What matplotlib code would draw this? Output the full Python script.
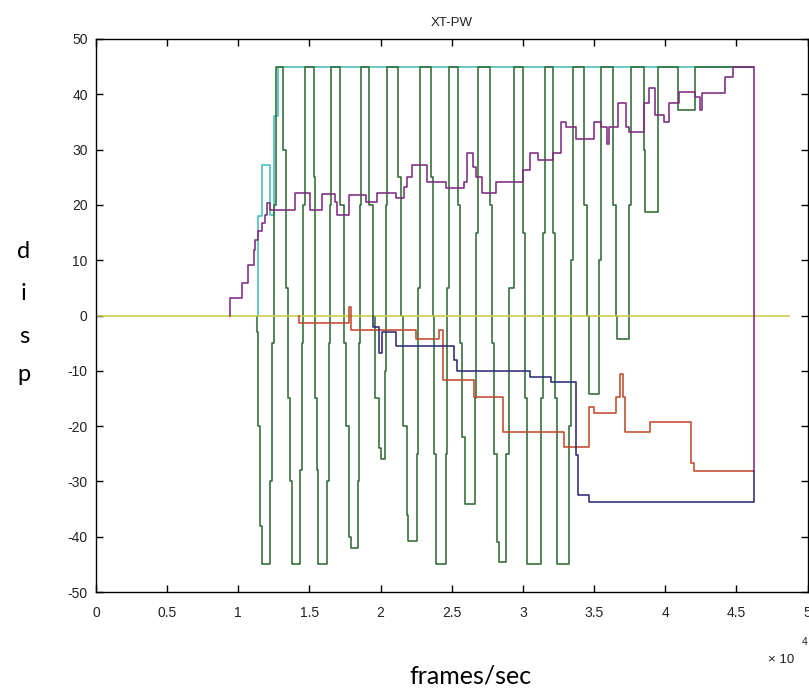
import matplotlib
matplotlib.use("Agg")
import matplotlib.pyplot as plt

# ---------------- data (x in units of 10^4 frames) ----------------
title = "XT-PW"
x_ticks = [0, 0.5, 1, 1.5, 2, 2.5, 3, 3.5, 4, 4.5, 5]
x_tick_labels = ["0", "0.5", "1", "1.5", "2", "2.5", "3", "3.5", "4", "4.5", "5"]
y_ticks = [-50, -40, -30, -20, -10, 0, 10, 20, 30, 40, 50]
y_tick_labels = ["-50", "-40", "-30", "-20", "-10", "0", "10", "20", "30", "40", "50"]

green_x = [1.130, 1.130, 1.140, 1.155, 1.165, 1.225, 1.235, 1.250, 1.262,
           1.315, 1.338, 1.350, 1.362, 1.378, 1.437, 1.447, 1.458, 1.470,
           1.531, 1.542, 1.550, 1.560, 1.624, 1.635, 1.645, 1.653,
           1.714, 1.740, 1.755, 1.778, 1.790, 1.840, 1.848, 1.855, 1.860,
           1.918, 1.945, 1.960, 1.990, 2.000, 2.030, 2.040, 2.047,
           2.122, 2.140, 2.160, 2.185, 2.195, 2.258, 2.265, 2.277,
           2.352, 2.365, 2.378, 2.390, 2.458, 2.470, 2.481,
           2.545, 2.560, 2.575, 2.590, 2.660, 2.670, 2.681,
           2.770, 2.785, 2.800, 2.815, 2.830, 2.880, 2.905, 2.934,
           2.998, 3.014, 3.028, 3.127, 3.140, 3.157,
           3.209, 3.225, 3.240, 3.326, 3.338, 3.350,
           3.427, 3.450, 3.465, 3.537, 3.549,
           3.636, 3.655, 3.662, 3.749, 3.761,
           3.854, 3.860, 3.950, 4.089, 4.206, 4.620]
green_y = [0, -3, -20, -38, -45, -30, -5, 20, 45,
           30, 5, -15, -30, -45, -28, -5, 20, 45,
           25, -15, -28, -45, -30, -5, 20, 45,
           20, -5, -20, -40, -42, -30, -5, 20, 45,
           20, 0, -15, -24, -26, -10, 20, 45,
           25, 0, -20, -36, -40.7, -25, 5, 45,
           25, 0, -25, -45, -25, 5, 45,
           20, -5, -22, -34, -15, 15, 45,
           20, -5, -25, -41, -44.5, -25, 5, 45,
           15, -15, -45, -15, 15, 45,
           15, -15, -45, -20, 10, 45,
           20, 0, -14.2, 10, 45,
           20, 0, -4.2, 20, 45,
           30, 18.8, 45, 37.1, 45, 45]

cyan_x = [1.136, 1.136, 1.166, 1.225, 1.254, 1.277, 4.625]
cyan_y = [0, 18.0, 27.2, 18.2, 36.1, 45, 45]

magenta_x = [0.939, 0.939, 1.026, 1.068, 1.108, 1.120, 1.136, 1.166, 1.190, 1.200,
             1.225, 1.401, 1.507, 1.589, 1.683, 1.695, 1.777, 1.894, 1.977,
             2.106, 2.164, 2.188, 2.223, 2.329, 2.458, 2.587, 2.610, 2.646,
             2.669, 2.716, 2.810, 2.998, 3.052, 3.103, 3.209, 3.268, 3.303,
             3.373, 3.502, 3.549, 3.590, 3.605, 3.667, 3.725, 3.745, 3.854,
             3.885, 3.930, 3.990, 4.030, 4.100, 4.206, 4.245, 4.260, 4.418,
             4.477, 4.625, 4.625]
magenta_y = [0, 3.1, 5.8, 9.1, 11.8, 13.7, 15.2, 16.7, 18.2, 20.3,
             19.1, 22.1, 19.1, 22.0, 20.5, 18.2, 21.7, 20.5, 22.1,
             21.2, 23.3, 25.1, 27.2, 24.2, 23.0, 24.2, 29.3, 26.8,
             25.1, 22.1, 24.2, 26.3, 29.3, 28.1, 29.3, 35.0, 34.1,
             32.0, 35.0, 34.1, 31.0, 34.1, 38.4, 34.1, 33.2, 38.4,
             41.1, 36.3, 35.0, 38.4, 40.5, 39.6, 37.2, 40.2, 43.2,
             45.0, 45.0, -28.2]

red_x = [1.425, 1.425, 1.777, 1.790, 2.246, 2.410, 2.441, 2.653, 2.857, 3.291,
         3.467, 3.500, 3.655, 3.680, 3.700, 3.715, 3.890, 4.183, 4.200, 4.625]
red_y = [0, -1.3, 1.6, -2.6, -4.3, -2.7, -11.7, -14.7, -21.0, -23.7,
         -16.5, -17.7, -14.7, -10.5, -14.7, -21.0, -19.2, -26.7, -28.2, -28.2]

blue_x = [1.948, 1.948, 1.988, 2.010, 2.106, 2.516, 2.535, 3.052, 3.197,
          3.373, 3.390, 3.465, 4.625, 4.625]
blue_y = [0, -2.0, -6.8, -3.0, -5.6, -8.0, -10.0, -11.2, -12.1,
          -25.2, -32.5, -33.7, -33.7, -28.2]

yellow_x = [0, 4.87]
yellow_y = [0, 0]

# ---------------- figure ----------------
W, H = 809, 690
fig = plt.figure(figsize=(W / 100, H / 100), dpi=100)
fig.patch.set_facecolor("white")

ax_l, ax_r, ax_t, ax_b = 96, 807.5, 39, 592
ax = fig.add_axes([ax_l / W, 1 - ax_b / H, (ax_r - ax_l) / W, (ax_b - ax_t) / H])

lw = 1.15
ax.plot(cyan_x, cyan_y, drawstyle="steps-post", color="#45bcbc", lw=lw)
ax.plot(green_x, green_y, drawstyle="steps-post", color="#2f6b35", lw=lw)
ax.plot(yellow_x, yellow_y, color="#cccc44", lw=lw)
ax.plot(red_x, red_y, drawstyle="steps-post", color="#c24a2c", lw=lw)
ax.plot(blue_x, blue_y, drawstyle="steps-post", color="#2c2c78", lw=lw)
ax.plot(magenta_x, magenta_y, drawstyle="steps-post", color="#7d2c80", lw=lw)

ax.set_xlim(0, 5)
ax.set_ylim(-50, 50)
ax.set_xticks(x_ticks)
ax.set_xticklabels(x_tick_labels)
ax.set_yticks(y_ticks)
ax.set_yticklabels(y_tick_labels)

for lab in ax.get_xticklabels() + ax.get_yticklabels():
    lab.set_fontfamily("Liberation Sans")
    lab.set_fontsize(10)
    lab.set_color("#222222")

ax.tick_params(axis="both", direction="in", length=5, width=1,
               top=True, right=True, color="black")
ax.tick_params(axis="x", pad=10)
ax.tick_params(axis="y", pad=6)
for sp in ax.spines.values():
    sp.set_linewidth(1.0)
    sp.set_color("black")

ax.set_title(title, fontfamily="Liberation Sans", fontsize=9.5, pad=9, color="#222222")

# x offset text
fig.text(781 / W, 1 - 660 / H, "\u00d7 10", fontfamily="Liberation Sans",
         fontsize=9.5, ha="center", va="center", color="#222222")
fig.text(805 / W, 1 - 642 / H, "4", fontfamily="Liberation Sans",
         fontsize=7.5, ha="center", va="center", color="#222222")

# axis labels (added as separate text)
lab_font = ["Lato", "DejaVu Sans"]
fig.text(470 / W, 1 - 676 / H, "frames/sec", family=lab_font, fontsize=18,
         ha="center", va="center", color="black")
for ch, yy in zip(["d", "i", "s", "p"], [252, 293, 336, 374]):
    fig.text(24 / W, 1 - yy / H, ch, family=lab_font, fontsize=17,
             ha="center", va="center", color="black")

fig.savefig("out.png", dpi=100, facecolor="white")
